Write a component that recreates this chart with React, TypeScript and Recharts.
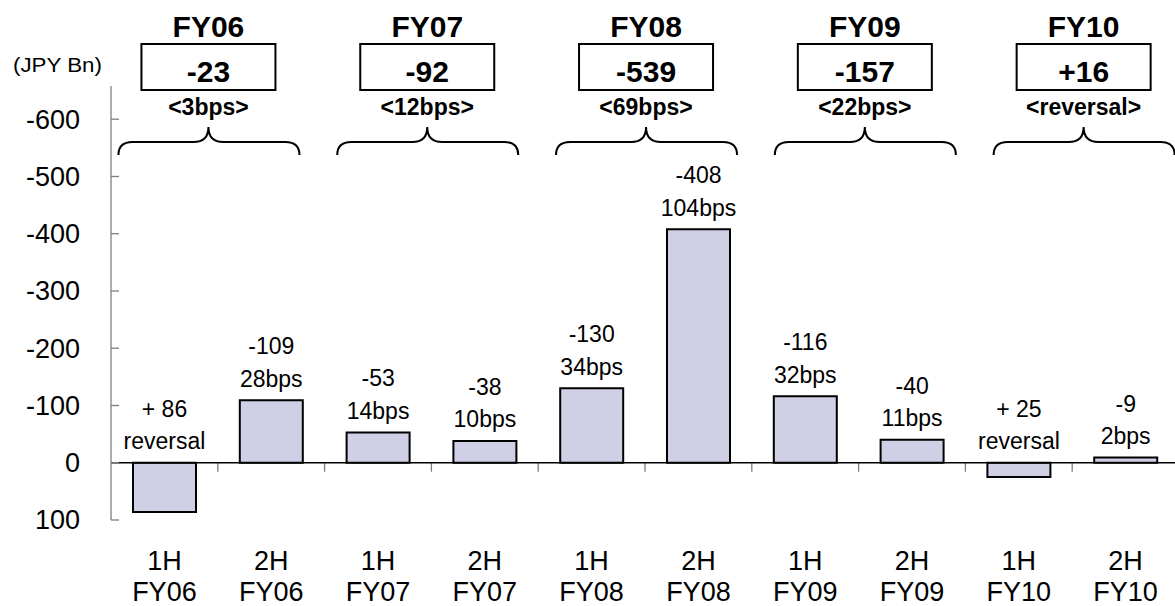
import React from "react";
import { BarChart, Bar, XAxis, YAxis, ReferenceLine, LabelList } from "recharts";

// Credit costs by half year (JPY Bn, negative = cost, positive = reversal)
const CATEGORIES = [
  "1H FY06", "2H FY06", "1H FY07", "2H FY07", "1H FY08",
  "2H FY08", "1H FY09", "2H FY09", "1H FY10", "2H FY10",
];
const CREDIT_COSTS = [86, -109, -53, -38, -130, -408, -116, -40, 25, -9];
const BPS_NOTES = [
  "reversal", "28bps", "14bps", "10bps", "34bps",
  "104bps", "32bps", "11bps", "reversal", "2bps",
];

// Full-year totals shown in the header boxes
const FISCAL_YEARS = ["FY06", "FY07", "FY08", "FY09", "FY10"];
const FY_TOTALS = [-23, -92, -539, -157, 16];
const FY_NOTES = ["3bps", "12bps", "69bps", "22bps", "reversal"];

const Y_TICKS = [-600, -500, -400, -300, -200, -100, 0, 100];
const Y_DOMAIN = [-658, 100];

const FONT = "'Liberation Sans', Arial, sans-serif";
const CHART_W = 1190;
const CHART_H = 606;
const PLOT_LEFT = 111;
const MARGIN_RIGHT = 11;
const PLOT_W = CHART_W - PLOT_LEFT - MARGIN_RIGHT;
const Y_LABEL_GAP = 31;
const BAR_W = 63;

const data = CATEGORIES.map((cat, i) => ({
  cat,
  value: CREDIT_COSTS[i],
  note: BPS_NOTES[i],
}));

const fmtSigned = (v: number) => (v > 0 ? `+ ${v}` : `${v}`);

function YTick({ x, y, payload }: any) {
  const axisX = x + Y_LABEL_GAP;
  return (
    <g>
      <line x1={axisX} x2={axisX + 8} y1={y} y2={y} stroke="#7f7f7f" strokeWidth={1.3} />
      <text x={x} y={y} dy="0.35em" textAnchor="end" fontSize={27} fill="#000" fontFamily={FONT}>
        {payload.value}
      </text>
    </g>
  );
}

function XTick({ x, y, payload }: any) {
  const [half, fy] = String(payload.value).split(" ");
  return (
    <g fontFamily={FONT} fontSize={27} fill="#000" textAnchor="middle">
      <text x={x} y={y + 50}>{half}</text>
      <text x={x} y={y + 81}>{fy}</text>
    </g>
  );
}

function BarNote({ x, y, height, index }: any) {
  const top = Math.min(y, y + height);
  const v = CREDIT_COSTS[index];
  const cx = x + BAR_W / 2;
  return (
    <g fontFamily={FONT} fontSize={23} fill="#000" textAnchor="middle">
      <text x={cx} y={top - 46}>{fmtSigned(v)}</text>
      <text x={cx} y={top - 13.5}>{BPS_NOTES[index]}</text>
    </g>
  );
}

// Zero line with the category separator ticks hanging below it
function ZeroAxis(props: any) {
  const { x1, x2, y1 } = props;
  const step = (x2 - x1) / CATEGORIES.length;
  return (
    <g>
      {CATEGORIES.slice(1).map((_, i) => (
        <line
          key={i}
          x1={x1 + step * (i + 1)}
          x2={x1 + step * (i + 1)}
          y1={y1}
          y2={y1 + 9}
          stroke="#7f7f7f"
          strokeWidth={1.3}
        />
      ))}
      <line x1={x1} x2={x2 + 20} y1={y1} y2={y1} stroke="#000" strokeWidth={1.3} />
    </g>
  );
}

function Brace({ cx }: { cx: number }) {
  const l = cx - 90;
  const r = cx + 91;
  const d = `M ${l} 155 Q ${l} 142 ${l + 14} 142 L ${cx - 15} 142 Q ${cx} 142 ${cx} 127 Q ${cx} 142 ${cx + 15} 142 L ${r - 14} 142 Q ${r} 142 ${r} 155`;
  return <path d={d} fill="none" stroke="#000" strokeWidth={2} />;
}

function YearHeaders() {
  const catW = PLOT_W / CATEGORIES.length;
  return (
    <svg
      width={1175}
      height={CHART_H}
      style={{ position: "absolute", left: 0, top: 0, pointerEvents: "none" }}
    >
      <text x={13} y={72} fontSize={20} textLength={89} lengthAdjust="spacingAndGlyphs" fontFamily={FONT}>
        (JPY Bn)
      </text>
      {FISCAL_YEARS.map((fy, g) => {
        const cx = PLOT_LEFT + catW * (2 * g + 1) + (g - 1.8) * 5.2;
        const total = FY_TOTALS[g];
        return (
          <g key={fy} fontFamily={FONT} fontWeight="bold" textAnchor="middle" fill="#000">
            <text x={cx} y={37} fontSize={30}>{fy}</text>
            <rect x={cx - 67} y={44} width={134} height={46} fill="#fff" stroke="#000" strokeWidth={2} />
            <text x={cx} y={82} fontSize={30}>{total > 0 ? `+${total}` : `${total}`}</text>
            <text x={cx} y={115} fontSize={23}>{`<${FY_NOTES[g]}>`}</text>
            <Brace cx={cx} />
          </g>
        );
      })}
    </svg>
  );
}

export default function App() {
  return (
    <div
      style={{
        position: "absolute",
        left: 0,
        top: 0,
        width: 1175,
        height: CHART_H,
        overflow: "hidden",
        background: "#fff",
      }}
    >
      <BarChart
        width={CHART_W}
        height={CHART_H}
        data={data}
        margin={{ top: 86, right: MARGIN_RIGHT, bottom: 26, left: 0 }}
        barSize={BAR_W}
      >
        <XAxis
          dataKey="cat"
          axisLine={false}
          tickLine={false}
          tickSize={0}
          tickMargin={0}
          height={60}
          interval={0}
          tick={<XTick />}
        />
        <YAxis
          reversed
          domain={Y_DOMAIN}
          ticks={Y_TICKS}
          allowDataOverflow
          width={PLOT_LEFT}
          tickSize={0}
          tickMargin={Y_LABEL_GAP}
          tickLine={false}
          axisLine={{ stroke: "#7f7f7f", strokeWidth: 1.3 }}
          tick={<YTick />}
        />
        <Bar dataKey="value" fill="#cfcfe6" stroke="#000" strokeWidth={2} isAnimationActive={false}>
          <LabelList dataKey="value" content={(p: any) => <BarNote {...p} />} />
        </Bar>
        <ReferenceLine y={0} shape={(p: any) => <ZeroAxis {...p} />} />
      </BarChart>
      <YearHeaders />
    </div>
  );
}
